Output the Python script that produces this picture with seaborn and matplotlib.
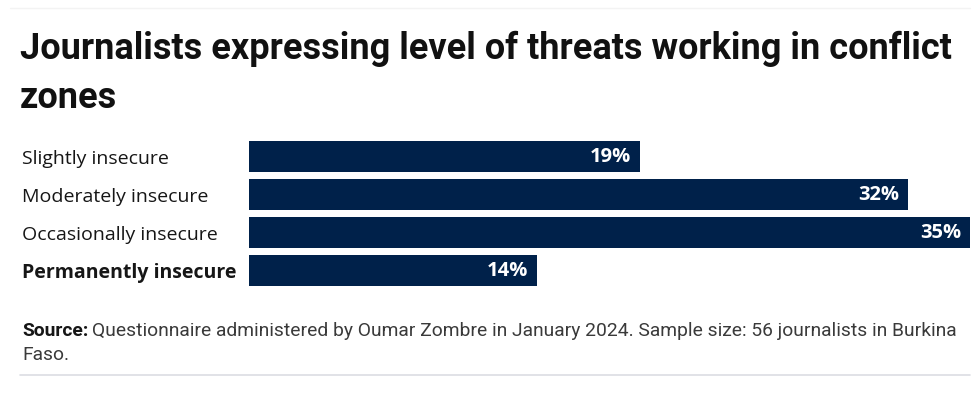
import matplotlib
matplotlib.use("Agg")
import matplotlib.pyplot as plt
import seaborn as sns
import pandas as pd
from matplotlib.lines import Line2D

categories = ["Slightly insecure", "Moderately insecure", "Occasionally insecure", "Permanently insecure"]
values = [19, 32, 35, 14]
value_labels = ["19%", "32%", "35%", "14%"]

df = pd.DataFrame({"category": categories, "value": values})

sns.set_theme(style="white")
plt.rcParams["font.family"] = ["Open Sans", "DejaVu Sans"]
COND = ["Roboto", "DejaVu Sans"]

W, H = 979, 397
fig = plt.figure(figsize=(W / 100, H / 100), dpi=100)
ax = fig.add_axes([249 / W, 1 - 289.5 / H, (970 - 249) / W, (289.5 - 137.5) / H])

BAR = "#00214a"
sns.barplot(data=df, x="value", y="category", orient="h", color=BAR, width=0.82,
            saturation=1, ax=ax, edgecolor="none")
ax.set_xlim(0, 35)
ax.set_ylim(3.5, -0.5)
ax.set_xlabel("")
ax.set_ylabel("")
ax.set_xticks([])
for s in ax.spines.values():
    s.set_visible(False)

ax.set_yticks(range(len(categories)))
ax.set_yticklabels(categories)
ax.tick_params(axis="y", length=0, pad=(249 - 22) * 0.72, labelsize=14, labelcolor="#161616")
for i, t in enumerate(ax.get_yticklabels()):
    t.set_ha("left")
    if i == 3:
        t.set_fontweight("bold")

for i, (v, lab) in enumerate(zip(values, value_labels)):
    ax.annotate(lab, (v, i), xytext=(-6.5, 0), textcoords="offset points",
                ha="right", va="center", color="white", fontsize=14.5, fontweight="bold")

fig.text(20 / W, 1 - 49 / H, "Journalists expressing level of threats working in conflict",
         fontsize=26, fontweight="bold", family=COND, color="#111111", va="center")
fig.text(20 / W, 1 - 98 / H, "zones",
         fontsize=26, fontweight="bold", family=COND, color="#111111", va="center")

fig.canvas.draw()
r = fig.canvas.get_renderer()
t1 = fig.text(22 / W, 1 - 331 / H, "Source:", fontsize=13.9, fontweight="bold",
              family=COND, color="#161616", va="center")
bb = t1.get_window_extent(r)
fig.text((bb.x1 + 4) / W, 1 - 331 / H,
         "Questionnaire administered by Oumar Zombre in January 2024. Sample size: 56 journalists in Burkina",
         fontsize=13.9, family=COND, color="#3a3a3a", va="center")
fig.text(22 / W, 1 - 355 / H, "Faso.", fontsize=13.9, family=COND,
         color="#3a3a3a", va="center")

fig.add_artist(Line2D([20 / W, 970 / W], [1 - 375 / H, 1 - 375 / H], color="#dcdde3", lw=1.2,
                      transform=fig.transFigure))
fig.add_artist(Line2D([10 / W, 970 / W], [1 - 8 / H, 1 - 8 / H], color="#f3f3f3", lw=1,
                      transform=fig.transFigure))

fig.savefig("out.png", dpi=100)
